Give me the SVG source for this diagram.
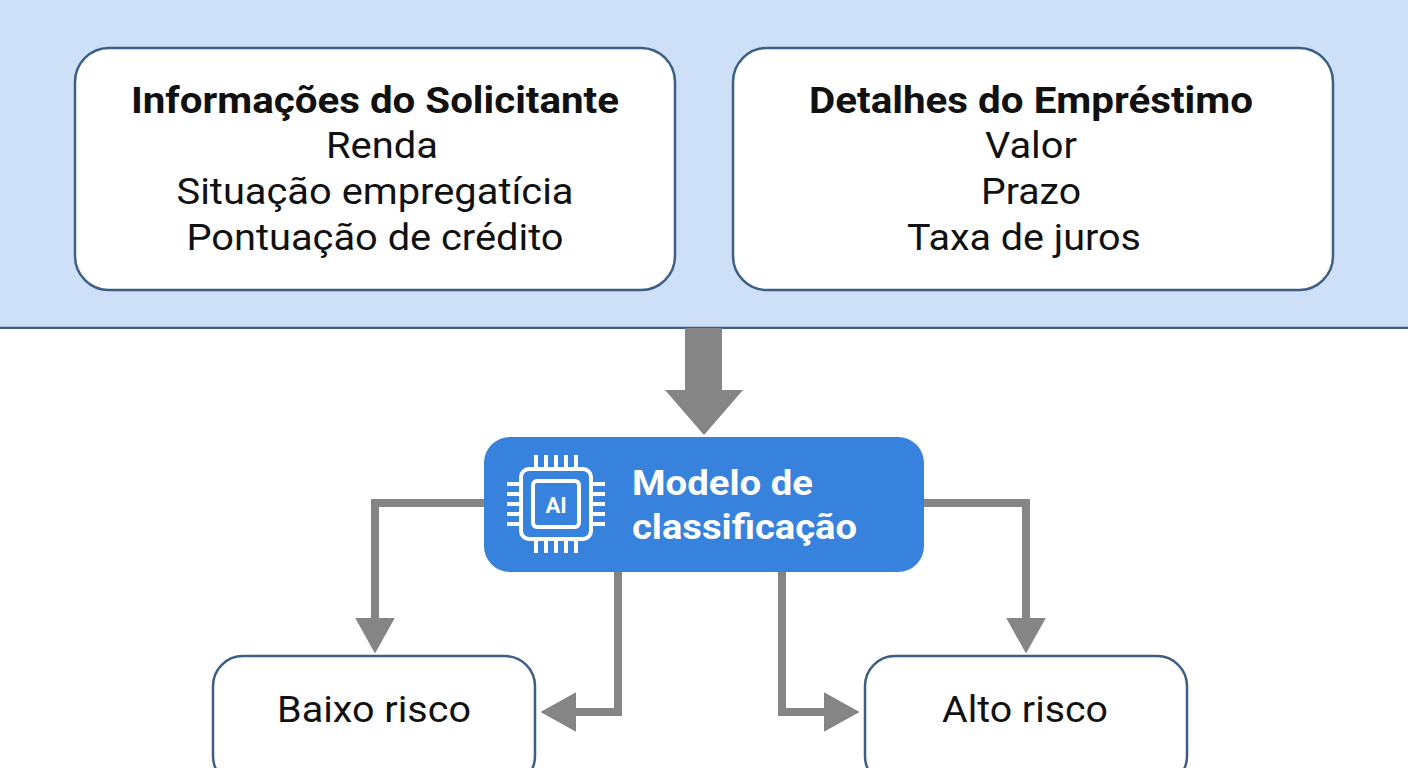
<svg xmlns="http://www.w3.org/2000/svg" width="1408" height="768" viewBox="0 0 1408 768">
<style>
.box{fill:#fff;stroke:#3d5f85;stroke-width:2.5}
.t{font-family:Roboto,"Liberation Sans",sans-serif;font-size:36px;fill:#111;text-anchor:middle}
.b{font-weight:bold}
.c{fill:none;stroke:#858585;stroke-width:8}
.w{fill:none;stroke:#fff;stroke-width:4}
</style>
<defs><marker id="ah" markerWidth="5" markerHeight="5" refX="0.3" refY="2.5" orient="auto" markerUnits="strokeWidth"><path d="M0,0 L4.5,2.5 L0,5 Z" fill="#858585"/></marker></defs>
<rect x="-2" y="-2" width="1412" height="330" fill="#cde0f8" stroke="#3d5f85" stroke-width="2.5"/>
<rect width="1408" height="768" fill="#fff" y="329"/>
<g id="applicant"><rect class="box" x="75" y="48" width="600" height="242" rx="34"/>
<text class="t b" x="375" y="113" textLength="488" lengthAdjust="spacingAndGlyphs">Informações do Solicitante</text>
<text class="t" x="382" y="158" textLength="112" lengthAdjust="spacingAndGlyphs">Renda</text><text class="t" x="375" y="204" textLength="397" lengthAdjust="spacingAndGlyphs">Situação empregatícia</text><text class="t" x="375" y="250" textLength="377" lengthAdjust="spacingAndGlyphs">Pontuação de crédito</text></g>
<g id="loan"><rect class="box" x="733" y="48" width="600" height="242" rx="34"/>
<text class="t b" x="1031" y="113" textLength="444" lengthAdjust="spacingAndGlyphs">Detalhes do Empréstimo</text>
<text class="t" x="1031" y="158" textLength="92" lengthAdjust="spacingAndGlyphs">Valor</text><text class="t" x="1031" y="204" textLength="100" lengthAdjust="spacingAndGlyphs">Prazo</text><text class="t" x="1024" y="250" textLength="234" lengthAdjust="spacingAndGlyphs">Taxa de juros</text></g>
<g id="connectors">
<path d="M685,328 H722 V390 H743 L704,435 L665,390 H685 Z" fill="#858585"/>
<path class="c" d="M484,503 H375 V620" marker-end="url(#ah)"/>
<path class="c" d="M618,572 V712 H574" marker-end="url(#ah)"/>
<path class="c" d="M782,572 V712 H826" marker-end="url(#ah)"/>
<path class="c" d="M924,503 H1026 V620" marker-end="url(#ah)"/>
</g>
<g id="model"><rect x="484" y="437" width="440" height="135" rx="26" fill="#3682dc"/>
<rect class="w" x="521" y="469" width="70" height="70" rx="8"/>
<rect class="w" x="533" y="481" width="46" height="46" rx="4"/>
<path class="w" d="M536,468V455M546,468V455M556,468V455M566,468V455M576,468V455M536,540V553M546,540V553M556,540V553M566,540V553M576,540V553M520,484H507M520,494H507M520,504H507M520,514H507M520,524H507M592,484H605M592,494H605M592,504H605M592,514H605M592,524H605"/>
<text x="556" y="513" font-family="Roboto,'Liberation Sans',sans-serif" font-size="22" font-weight="bold" fill="#fff" text-anchor="middle">AI</text>
<text font-family="Roboto,'Liberation Sans',sans-serif" font-size="35" font-weight="bold" fill="#fff"><tspan x="632" y="495" textLength="181" lengthAdjust="spacingAndGlyphs">Modelo de</tspan><tspan x="632" y="539" textLength="225" lengthAdjust="spacingAndGlyphs">classificação</tspan></text></g>
<g id="low"><rect class="box" x="213" y="656" width="322" height="130" rx="30"/><text class="t" x="374" y="722" textLength="194" lengthAdjust="spacingAndGlyphs">Baixo risco</text></g>
<g id="high"><rect class="box" x="865" y="656" width="322" height="130" rx="30"/><text class="t" x="1025" y="722" textLength="166" lengthAdjust="spacingAndGlyphs">Alto risco</text></g>
</svg>
